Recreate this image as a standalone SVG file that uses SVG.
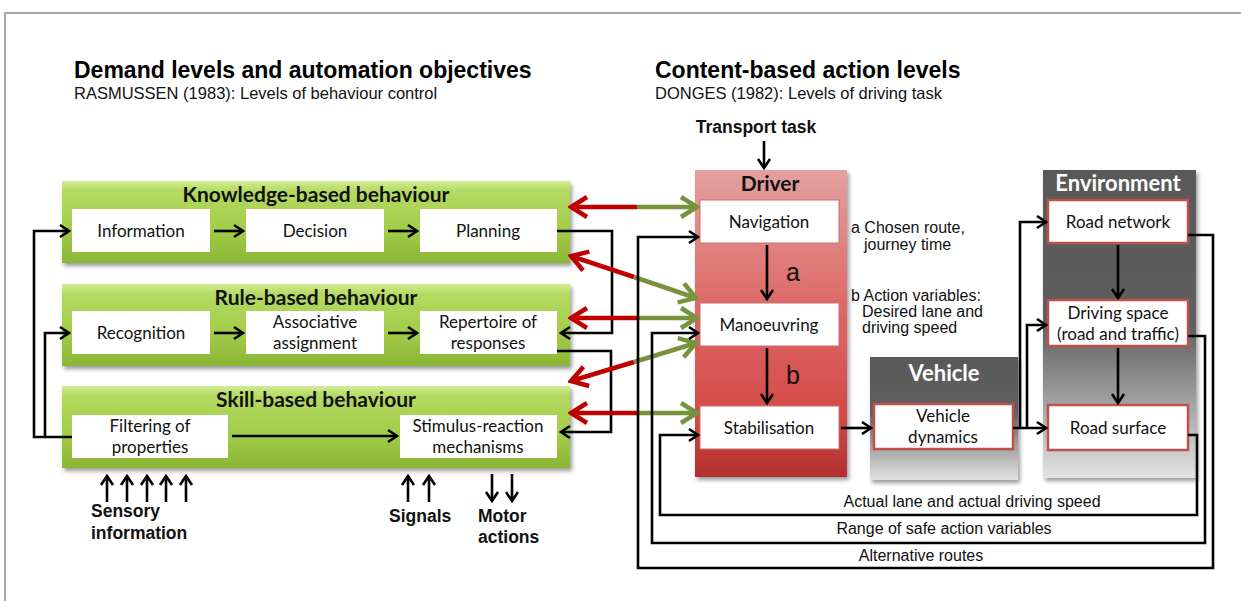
<svg xmlns="http://www.w3.org/2000/svg" width="1241" height="601" viewBox="0 0 1241 601">
  <defs>
    <style>
      .title { font-family: "Liberation Sans", Arial, sans-serif; font-weight: bold; font-size: 23px; fill: #000; }
      .sub { font-family: "Liberation Sans", Arial, sans-serif; font-size: 16.5px; fill: #111; }
      .hdr { font-family: Lato, "Open Sans", sans-serif; font-weight: bold; font-size: 21px; fill: #111; text-anchor: middle; }
      .hdrw { font-family: Lato, "Open Sans", sans-serif; font-weight: bold; font-size: 22px; fill: #fff; text-anchor: middle; }
      .lbl { font-family: Lato, "Open Sans", sans-serif; font-size: 17px; fill: #111; text-anchor: middle; }
      .note { font-family: "Liberation Sans", Arial, sans-serif; font-size: 16px; fill: #111; }
      .big { font-family: "Liberation Sans", Arial, sans-serif; font-size: 25px; fill: #111; }
      .io { font-family: "Liberation Sans", Arial, sans-serif; font-weight: bold; font-size: 17.5px; fill: #111; }
      .wb { fill: #fff; }
      .wbd { fill: #fff; stroke: #c9706e; stroke-width: 1; }
      .wbr { fill: #fff; stroke: #c0504d; stroke-width: 2.5; }
      .lna { fill: none; stroke: #000; stroke-width: 2.6; marker-end: url(#ah); }
      .red { fill: none; stroke: #c00000; stroke-width: 4.5; marker-end: url(#ahr); }
      .grn { fill: none; stroke: #77933c; stroke-width: 4.5; marker-end: url(#ahg); }
    </style>
    <linearGradient id="gGreen" x1="0" y1="0" x2="0" y2="1">
      <stop offset="0" stop-color="#d2ec94"/>
      <stop offset="0.12" stop-color="#b5da62"/>
      <stop offset="0.6" stop-color="#a2cc48"/>
      <stop offset="1" stop-color="#8bb535"/>
    </linearGradient>
    <linearGradient id="gRed" x1="0" y1="0" x2="0" y2="1">
      <stop offset="0" stop-color="#e3a09f"/>
      <stop offset="0.45" stop-color="#dd6866"/>
      <stop offset="0.8" stop-color="#d44a48"/>
      <stop offset="1" stop-color="#b22f2f"/>
    </linearGradient>
    <linearGradient id="gEnv" x1="0" y1="0" x2="0" y2="1">
      <stop offset="0" stop-color="#595959"/>
      <stop offset="0.5" stop-color="#5e5e5e"/>
      <stop offset="1" stop-color="#e2e2e2"/>
    </linearGradient>
    <linearGradient id="gVeh" x1="0" y1="0" x2="0" y2="1">
      <stop offset="0" stop-color="#595959"/>
      <stop offset="0.45" stop-color="#606060"/>
      <stop offset="1" stop-color="#e2e2e2"/>
    </linearGradient>
    <filter id="shadow" x="-5%" y="-5%" width="115%" height="125%">
      <feDropShadow dx="2" dy="3" stdDeviation="2" flood-color="#000" flood-opacity="0.4"/>
    </filter>
    <marker id="ah" viewBox="0 0 14 16" refX="12" refY="8" markerWidth="14" markerHeight="16" markerUnits="userSpaceOnUse" orient="auto">
      <path d="M3,2 L12,8 L3,14" fill="none" stroke="#000" stroke-width="2.6"/>
    </marker>
    <marker id="ahr" viewBox="0 0 24 26" refX="21" refY="13" markerWidth="24" markerHeight="26" markerUnits="userSpaceOnUse" orient="auto">
      <path d="M5,3 L21,13 L5,23" fill="none" stroke="#c00000" stroke-width="4.5"/>
    </marker>
    <marker id="ahg" viewBox="0 0 24 26" refX="21" refY="13" markerWidth="24" markerHeight="26" markerUnits="userSpaceOnUse" orient="auto">
      <path d="M5,3 L21,13 L5,23" fill="none" stroke="#77933c" stroke-width="4.5"/>
    </marker>
  </defs>

  <rect width="1241" height="601" fill="#fff"/>
  <!-- page frame -->
  <path d="M5,601 V13 H1241" fill="none" stroke="#a6a6a6" stroke-width="2"/>

  <!-- headings -->
  <g id="headings">
    <text class="title" x="74" y="78">Demand levels and automation objectives</text>
    <text class="sub" x="74" y="99">RASMUSSEN (1983): Levels of behaviour control</text>
    <text class="title" x="655" y="78">Content-based action levels</text>
    <text class="sub" x="655" y="99">DONGES (1982): Levels of driving task</text>
  </g>

  <!-- behaviour levels -->
  <g id="knowledge">
    <rect x="62" y="181" width="508" height="82" fill="url(#gGreen)" filter="url(#shadow)"/>
    <text class="hdr" x="316" y="202">Knowledge-based behaviour</text>
    <rect class="wb" x="72" y="209" width="138" height="43"/>
    <text class="lbl" x="141" y="237">Information</text>
    <rect class="wb" x="246" y="209" width="138" height="43"/>
    <text class="lbl" x="315" y="237">Decision</text>
    <rect class="wb" x="420" y="209" width="137" height="43"/>
    <text class="lbl" x="488" y="237">Planning</text>
  </g>

  <g id="rule">
    <rect x="62" y="284" width="508" height="82" fill="url(#gGreen)" filter="url(#shadow)"/>
    <text class="hdr" x="316" y="305">Rule-based behaviour</text>
    <rect class="wb" x="72" y="311" width="138" height="43"/>
    <text class="lbl" x="141" y="339">Recognition</text>
    <rect class="wb" x="246" y="311" width="138" height="43"/>
    <text class="lbl" x="315" y="328">Associative</text>
    <text class="lbl" x="315" y="349">assignment</text>
    <rect class="wb" x="420" y="311" width="137" height="43"/>
    <text class="lbl" x="488" y="328">Repertoire of</text>
    <text class="lbl" x="488" y="349">responses</text>
  </g>

  <g id="skill">
    <rect x="62" y="386" width="508" height="82" fill="url(#gGreen)" filter="url(#shadow)"/>
    <text class="hdr" x="316" y="407">Skill-based behaviour</text>
    <rect class="wb" x="72" y="415" width="156" height="43"/>
    <text class="lbl" x="150" y="432">Filtering of</text>
    <text class="lbl" x="150" y="453">properties</text>
    <rect class="wb" x="400" y="415" width="157" height="43"/>
    <text class="lbl" x="478" y="432">Stimulus-reaction</text>
    <text class="lbl" x="478" y="453">mechanisms</text>
  </g>

  <g id="inputs">
    <text class="io" x="91" y="517">Sensory</text>
    <text class="io" x="91" y="539">information</text>
    <text class="io" x="389" y="522">Signals</text>
    <text class="io" x="478" y="522">Motor</text>
    <text class="io" x="478" y="543">actions</text>
  </g>

  <!-- driving task levels -->
  <g id="transport">
    <text class="io" x="756" y="133" text-anchor="middle">Transport task</text>
  </g>

  <g id="driver">
    <rect x="695" y="170" width="152" height="307" fill="url(#gRed)" filter="url(#shadow)"/>
    <text class="hdr" x="770" y="191">Driver</text>
    <rect class="wbd" x="700" y="200" width="139" height="43"/>
    <text class="lbl" x="769" y="228">Navigation</text>
    <rect class="wbd" x="700" y="303" width="139" height="43"/>
    <text class="lbl" x="769" y="331">Manoeuvring</text>
    <rect class="wbd" x="700" y="406" width="139" height="43"/>
    <text class="lbl" x="769" y="434">Stabilisation</text>
  </g>

  <g id="vehicle">
    <rect x="870" y="357" width="148" height="123" fill="url(#gVeh)" filter="url(#shadow)"/>
    <text class="hdrw" x="944" y="381">Vehicle</text>
    <rect class="wbr" x="874" y="404" width="139" height="45"/>
    <text class="lbl" x="943" y="422">Vehicle</text>
    <text class="lbl" x="943" y="443">dynamics</text>
  </g>

  <g id="environment">
    <rect x="1043" y="170" width="153" height="308" fill="url(#gEnv)" filter="url(#shadow)"/>
    <text class="hdrw" x="1118" y="191">Environment</text>
    <rect class="wbr" x="1048" y="200" width="140" height="43"/>
    <text class="lbl" x="1118" y="228">Road network</text>
    <rect class="wbr" x="1048" y="300" width="140" height="46"/>
    <text class="lbl" x="1118" y="319">Driving space</text>
    <text class="lbl" x="1118" y="340">(road and traffic)</text>
    <rect class="wbr" x="1048" y="405" width="140" height="45"/>
    <text class="lbl" x="1118" y="434">Road surface</text>
  </g>

  <g id="notes">
    <text class="note" x="851" y="233">a Chosen route,</text>
    <text class="note" x="864" y="250">journey time</text>
    <text class="note" x="851" y="301">b Action variables:</text>
    <text class="note" x="862" y="317">Desired lane and</text>
    <text class="note" x="862" y="333">driving speed</text>
    <text class="big" x="786" y="281">a</text>
    <text class="big" x="786" y="384">b</text>
    <text class="note" x="972" y="507" text-anchor="middle">Actual lane and actual driving speed</text>
    <text class="note" x="944" y="534" text-anchor="middle">Range of safe action variables</text>
    <text class="note" x="921" y="561" text-anchor="middle">Alternative routes</text>
  </g>

  <!-- connectors -->
  <g id="connectors">
    <!-- within behaviour levels -->
    <path class="lna" d="M214,231 H243"/>
    <path class="lna" d="M388,231 H417"/>
    <path class="lna" d="M214,333 H243"/>
    <path class="lna" d="M388,333 H417"/>
    <path class="lna" d="M232,436 H397"/>
    <!-- feedback on the left -->
    <path class="lna" d="M72,437 H34 V231 H69"/>
    <path class="lna" d="M45,437 V333 H69"/>
    <!-- level transitions on the right -->
    <path class="lna" d="M557,231 H612 V333 H561"/>
    <path class="lna" d="M557,351 H611 V432 H561"/>

    <!-- sensory inputs, signals, motor actions -->
    <path class="lna" d="M107,502 V476"/>
    <path class="lna" d="M127,502 V476"/>
    <path class="lna" d="M147,502 V476"/>
    <path class="lna" d="M166,502 V476"/>
    <path class="lna" d="M186,502 V476"/>
    <path class="lna" d="M408,502 V476"/>
    <path class="lna" d="M429,502 V476"/>
    <path class="lna" d="M492,474 V501"/>
    <path class="lna" d="M512,474 V501"/>

    <!-- coupling between behaviour levels and driving task levels -->
    <path class="red" d="M637,207 H571"/>
    <path class="grn" d="M637,207 H697"/>
    <path class="red" d="M634,277 L571,256"/>
    <path class="grn" d="M634,277 L696,298"/>
    <path class="red" d="M637,318 H571"/>
    <path class="grn" d="M637,318 H697"/>
    <path class="red" d="M634,362 L571,381"/>
    <path class="grn" d="M634,362 L696,343"/>
    <path class="red" d="M637,413 H571"/>
    <path class="grn" d="M637,413 H697"/>

    <!-- driving task chain -->
    <path class="lna" d="M764,141 V168"/>
    <path class="lna" d="M767,245 V299"/>
    <path class="lna" d="M767,348 V403"/>
    <path class="lna" d="M841,428 H871"/>
    <path class="lna" d="M1013,428 H1046"/>
    <path class="lna" d="M1020,428 V222 H1046"/>
    <path class="lna" d="M1027,428 V325 H1046"/>
    <path class="lna" d="M1118,245 V298"/>
    <path class="lna" d="M1118,348 V403"/>

    <!-- feedback loops -->
    <path class="lna" d="M1188,235 H1213 V568 H638 V237 H698"/>
    <path class="lna" d="M1188,336 H1205 V543 H652 V333 H698"/>
    <path class="lna" d="M1188,435 H1197 V515 H660 V435 H698"/>
  </g>
</svg>
